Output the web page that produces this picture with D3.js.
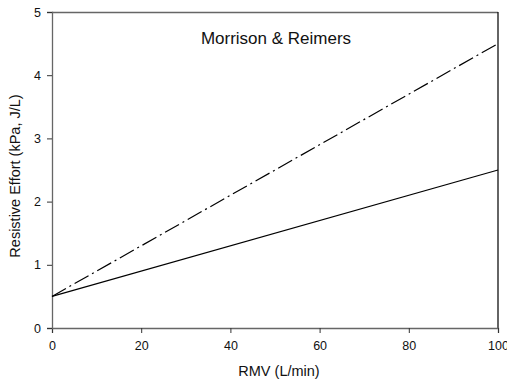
<!DOCTYPE html>
<html><head><meta charset="utf-8">
<script src="https://cdn.jsdelivr.net/npm/d3@7"></script>
<style>body{margin:0;background:#fff}svg{display:block}text{font-family:"Liberation Sans",Arial,sans-serif;fill:#111}</style>
</head><body><svg id="c" width="507" height="381"></svg>
<script>
const rmv = [0, 100];
const solidLine = [0.5, 2.5];
const dashDotLine = [0.5, 4.5];
const xTicks = [0, 20, 40, 60, 80, 100];
const yTicks = [0, 1, 2, 3, 4, 5];
const title = "Morrison & Reimers";
const xTitle = "RMV (L/min)";
const yTitle = "Resistive Effort (kPa, J/L)";

const svg = d3.select("#c");
const L = 52, R = 498, T = 12, B = 328;
const x = d3.scaleLinear().domain([0, 100]).range([L, R]);
const y = d3.scaleLinear().domain([0, 5]).range([B, T]);

svg.append("line").attr("x1", L).attr("x2", R).attr("y1", T + 0.5).attr("y2", T + 0.5).attr("stroke", "#666").attr("stroke-width", 1.3);
svg.append("line").attr("x1", R).attr("x2", R).attr("y1", T).attr("y2", B).attr("stroke", "#111").attr("stroke-width", 1.3);

const xa = svg.append("g").attr("transform", `translate(0,${B})`)
  .call(d3.axisBottom(x).tickValues(xTicks).tickSize(5).tickPadding(8).tickFormat(d3.format("d")));
const ya = svg.append("g").attr("transform", `translate(${L},0)`)
  .call(d3.axisLeft(y).tickValues(yTicks).tickSize(5).tickPadding(6).tickFormat(d3.format("d")));
[xa, ya].forEach(a => {
  a.select(".domain").attr("stroke", "#666").attr("stroke-width", 1.3);
  a.selectAll(".tick line").attr("stroke", "#333");
  a.selectAll("text").attr("font-size", 12.5).attr("font-family", "Liberation Sans, Arial, sans-serif").attr("fill", "#111");
});

const line = d3.line().x((d, i) => x(rmv[i])).y(d => y(d));
svg.append("path").datum(solidLine).attr("d", line).attr("fill", "none").attr("stroke", "#000").attr("stroke-width", 1.2);
svg.append("path").datum(dashDotLine).attr("d", line).attr("fill", "none").attr("stroke", "#000").attr("stroke-width", 1.2).attr("stroke-dasharray", "16,4,2,4");

svg.append("text").attr("x", 276).attr("y", 44).attr("text-anchor", "middle").attr("font-size", 17).text(title);
svg.append("text").attr("x", 279).attr("y", 376).attr("text-anchor", "middle").attr("font-size", 14.5).text(xTitle);
svg.append("text").attr("transform", `translate(20,176) rotate(-90)`).attr("text-anchor", "middle").attr("font-size", 14.5).text(yTitle);
</script></body></html>
